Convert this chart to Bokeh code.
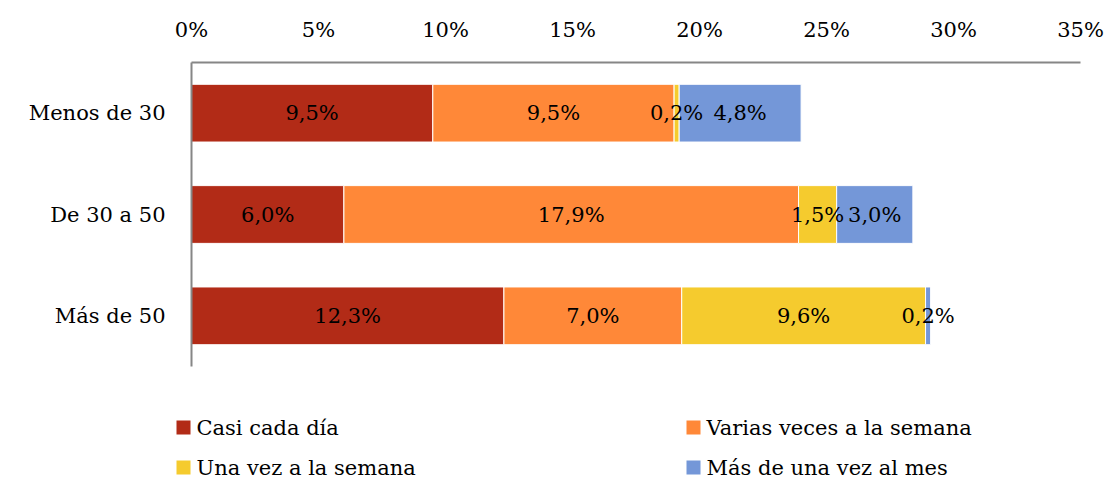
from bokeh.plotting import figure
from bokeh.layouts import column
from bokeh.models import ColumnDataSource, FixedTicker, FactorRange, Range1d
from bokeh.core.properties import value
from bokeh.embed import file_html
from bokeh.resources import INLINE

categories = ["Más de 50", "De 30 a 50", "Menos de 30"]
series_names = ["Casi cada día", "Varias veces a la semana", "Una vez a la semana", "Más de una vez al mes"]
casi_cada_dia = [12.3, 6.0, 9.5]
varias_veces = [7.0, 17.9, 9.5]
una_vez = [9.6, 1.5, 0.2]
mas_de_una_vez_mes = [0.2, 3.0, 4.8]
colors = ["#B22B17", "#FF8838", "#F5CB2E", "#7497D8"]
tick_values = [0, 5, 10, 15, 20, 25, 30, 35]
tick_labels = ["0%", "5%", "10%", "15%", "20%", "25%", "30%", "35%"]

FONT = "DejaVu Serif"
FS = "21px"

series = [casi_cada_dia, varias_veces, una_vez, mas_de_una_vez_mes]
keys = ["s0", "s1", "s2", "s3"]
data = {"cat": categories}
for k, s in zip(keys, series):
    data[k] = s
source = ColumnDataSource(data)

p = figure(width=1109, height=396, y_range=FactorRange(*categories, range_padding=0),
           x_range=Range1d(0, 35), x_axis_location="above",
           output_backend="svg", toolbar_location=None,
           min_border_left=191, min_border_right=29, min_border_top=62, min_border_bottom=30)
p.frame_align = False

p.hbar_stack(keys, y="cat", height=0.57, color=colors, source=source,
             line_color="white", line_width=1)

lx, ly, lt = [], [], []
for i, c in enumerate(categories):
    start = 0.0
    for s in series:
        v = s[i]
        lx.append(start + v / 2)
        ly.append(c)
        lt.append(f"{v:.1f}%".replace(".", ","))
        start += v
p.text(x=lx, y=ly, text=lt, text_align="center", text_baseline="middle",
       text_font=value(FONT), text_font_size=FS, text_color="black")

p.xaxis.ticker = FixedTicker(ticks=tick_values)
p.xaxis.major_label_overrides = {v: l for v, l in zip(tick_values, tick_labels)}
for ax in (p.xaxis[0], p.yaxis[0]):
    ax.axis_line_color = "#868686"
    ax.axis_line_width = 2
    ax.major_tick_line_color = None
    ax.minor_tick_line_color = None
    ax.major_label_text_font = FONT
    ax.major_label_text_font_size = FS
    ax.major_label_text_color = "black"
p.xaxis.major_label_standoff = 15
p.yaxis.major_label_standoff = 20
p.xgrid.visible = False
p.ygrid.visible = False
p.outline_line_color = None

# legend (2 columns x 2 rows) drawn in its own panel below the chart
LW, LH = 1109, 85
leg = figure(width=LW, height=LH, x_range=Range1d(0, LW), y_range=Range1d(LH, 0),
             output_backend="svg", toolbar_location=None,
             x_axis_location=None, y_axis_location=None,
             min_border_left=0, min_border_right=0, min_border_top=0, min_border_bottom=0)
leg.frame_align = False
leg.xgrid.visible = False
leg.ygrid.visible = False
leg.outline_line_color = None
col_step, row_step = 510, 40
sq_x = [183 + (i % 2) * col_step for i in range(len(series_names))]
sq_y = [31 + (i // 2) * row_step for i in range(len(series_names))]
leg.scatter(x=sq_x, y=sq_y, marker="square", size=14, color=colors, line_color=None)
leg.text(x=[x + 13 for x in sq_x], y=sq_y, text=series_names, text_align="left",
         text_baseline="middle", text_font=value(FONT), text_font_size=FS, text_color="black")

layout = column(p, leg, spacing=0)
open("out.html", "w").write(file_html(layout, INLINE))
